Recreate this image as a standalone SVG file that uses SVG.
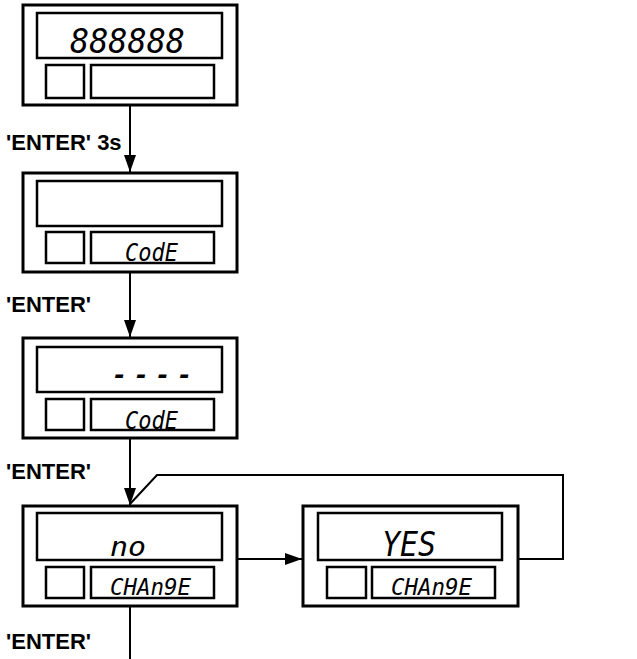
<svg xmlns="http://www.w3.org/2000/svg" width="637" height="659" viewBox="0 0 637 659">
<style>
.outer{fill:#fff;stroke:#000;stroke-width:3}
.inner{fill:none;stroke:#000;stroke-width:2.5}
.seg{font-family:"DejaVu Sans Mono","Liberation Mono",monospace;font-style:oblique;fill:#000}
.lbl{font-family:"Liberation Sans",Arial,sans-serif;font-weight:bold;font-size:22px;fill:#000}
.conn{fill:none;stroke:#000;stroke-width:2}
</style>
<defs>
<marker id="arr" markerUnits="userSpaceOnUse" markerWidth="17" markerHeight="12" refX="17" refY="6" orient="auto">
<path d="M0,0 L17,6 L0,12 z" fill="#000"/>
</marker>
</defs>
<rect width="637" height="659" fill="#fff"/>
<g id="connectors">
<line class="conn" x1="130" y1="105" x2="130" y2="172" marker-end="url(#arr)"/>
<line class="conn" x1="130" y1="272" x2="130" y2="337" marker-end="url(#arr)"/>
<line class="conn" x1="130" y1="438" x2="130" y2="505" marker-end="url(#arr)"/>
<line class="conn" x1="130" y1="606" x2="130" y2="659"/>
<line class="conn" x1="237" y1="559" x2="302" y2="559" marker-end="url(#arr)"/>
<polyline class="conn" points="518,559 563,559 563,475 157,475 130,504"/>
<text class="lbl" x="6" y="150">'ENTER' 3s</text>
<text class="lbl" x="6" y="312">'ENTER'</text>
<text class="lbl" x="6" y="479">'ENTER'</text>
<text class="lbl" x="6" y="649">'ENTER'</text>
</g>
<g id="display1">
<rect class="outer" x="23" y="5" width="214" height="100"/>
<rect class="inner" x="37" y="13" width="185" height="45"/>
<rect class="inner" x="46" y="65" width="38" height="33"/>
<rect class="inner" x="91" y="65" width="123" height="33"/>
<text class="seg" x="70" y="53" font-size="34" textLength="115" lengthAdjust="spacingAndGlyphs">888888</text>
</g>
<g id="display2">
<rect class="outer" x="23" y="173" width="214" height="99"/>
<rect class="inner" x="37" y="181" width="185" height="45"/>
<rect class="inner" x="46" y="232" width="38" height="31"/>
<rect class="inner" x="91" y="232" width="123" height="31"/>
<text class="seg" x="125" y="261" font-size="25" textLength="53" lengthAdjust="spacingAndGlyphs">CodE</text>
</g>
<g id="display3">
<rect class="outer" x="23" y="338" width="214" height="100"/>
<rect class="inner" x="37" y="347" width="185" height="45"/>
<rect class="inner" x="46" y="399" width="38" height="31"/>
<rect class="inner" x="91" y="399" width="123" height="31"/>
<text class="seg" x="112" y="383" font-size="25" font-weight="bold" textLength="80" lengthAdjust="spacing">- - - -</text>
<text class="seg" x="125" y="429" font-size="25" textLength="53" lengthAdjust="spacingAndGlyphs">CodE</text>
</g>
<g id="display4">
<rect class="outer" x="23" y="506" width="214" height="100"/>
<rect class="inner" x="37" y="513" width="185" height="47"/>
<rect class="inner" x="46" y="567" width="38" height="31"/>
<rect class="inner" x="91" y="567" width="123" height="31"/>
<text class="seg" x="110" y="556" font-size="26" textLength="36" lengthAdjust="spacingAndGlyphs">no</text>
<text class="seg" x="110" y="595" font-size="23" textLength="81" lengthAdjust="spacingAndGlyphs">CHAn9E</text>
</g>
<g id="display5">
<rect class="outer" x="303" y="506" width="215" height="100"/>
<rect class="inner" x="318" y="513" width="184" height="47"/>
<rect class="inner" x="327" y="567" width="39" height="31"/>
<rect class="inner" x="372" y="567" width="123" height="31"/>
<text class="seg" x="382" y="556" font-size="33" textLength="54" lengthAdjust="spacingAndGlyphs">YES</text>
<text class="seg" x="391" y="595" font-size="23" textLength="81" lengthAdjust="spacingAndGlyphs">CHAn9E</text>
</g>
</svg>
